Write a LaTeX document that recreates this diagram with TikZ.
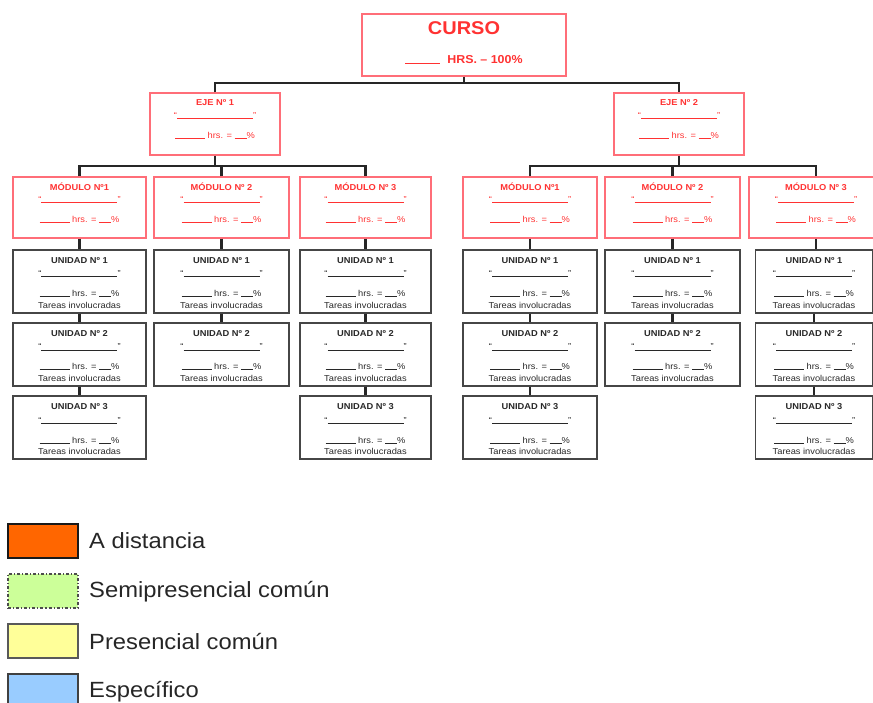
\documentclass[tikz,border=0pt]{standalone}
\usepackage{fontspec}
\setmainfont{Liberation Sans}[FakeStretch=1.08]
\usetikzlibrary{calc}

\definecolor{hdred}{RGB}{255,50,50}
\definecolor{hdframe}{RGB}{255,110,120}
\definecolor{unitframe}{RGB}{70,70,70}
\definecolor{unittext}{RGB}{40,40,40}
\definecolor{legorange}{RGB}{255,102,0}
\definecolor{leggreen}{RGB}{204,255,153}
\definecolor{legyellow}{RGB}{255,255,153}
\definecolor{legblue}{RGB}{153,204,255}

\tikzset{
  redbox/.style={draw=hdframe, line width=1.1pt, rectangle, inner sep=0pt},
  unitbox/.style={draw=unitframe, line width=1.2pt, rectangle, inner sep=0pt, minimum height=63pt},
  conn/.style={draw=black!85, line width=2.1pt},
  ttl/.style={inner sep=0pt, font=\fontsize{8.6}{10}\selectfont\bfseries},
  txt/.style={inner sep=0pt, font=\fontsize{8.6}{10}\selectfont},
  legswatch/.style={rectangle, inner sep=0pt, minimum width=70pt, minimum height=34pt},
  legtext/.style={anchor=west, inner sep=0pt, text=black!85, font=\fontsize{22}{24}\selectfont},
}

% #1 name, #2 centre x, #3 top y, #4 width, #5 number
\newcommand\UnitBox[5]{%
  \node[unitbox, minimum width=#4pt] (#1) at (#2,#3+31.5) {};
  \node[ttl, text=unittext] (#1-t) at (#2,#3+11) {UNIDAD Nº #5};
  \node[txt, text=unittext, anchor=base] (#1-q) at (#2,#3+27) {“\rule{76pt}{0.5pt}”};
  \node[txt, text=unittext, anchor=base] (#1-h) at (#2,#3+47) {\rule{30pt}{0.5pt} hrs. = \rule{12pt}{0.5pt}\%};
  \node[txt, text=unittext] (#1-w) at (#2,#3+55) {Tareas involucradas};
}
% #1 name, #2 centre x, #3 top y, #4 width, #5 height, #6 title
\newcommand\RedBox[6]{%
  \node[redbox, minimum width=#4pt, minimum height=#5pt] (#1) at (#2,#3+#5/2) {};
  \node[ttl, text=hdred] (#1-t) at (#2,#3+10) {#6};
  \node[txt, text=hdred, anchor=base] (#1-q) at (#2,#3+26) {“\rule{76pt}{0.5pt}”};
  \node[txt, text=hdred, anchor=base] (#1-h) at (#2,#3+46) {\rule{30pt}{0.5pt} hrs. = \rule{12pt}{0.5pt}\%};
}

\begin{document}
\begin{tikzpicture}[x=1pt, y=-1pt]
\useasboundingbox (0,0) rectangle (873,703);

% course header
\node[redbox, minimum width=204pt, minimum height=62pt] (curso) at (464,45) {};
\node[inner sep=0pt, text=hdred, font=\fontsize{18.5}{20}\selectfont\bfseries] (curso-t) at (464,28) {CURSO};
\node[inner sep=0pt, text=hdred, anchor=base, font=\fontsize{11.5}{13}\selectfont\bfseries] (curso-h) at (464,64) {\rule{35pt}{0.6pt}\ \ HRS. – 100\%};

% axes
\RedBox{eje1}{215}{93}{130}{62}{EJE Nº 1}
\RedBox{eje2}{679}{93}{130}{62}{EJE Nº 2}

% modules
\RedBox{m1}{79.5}{177}{133}{61}{MÓDULO Nº1}
\RedBox{m2}{221.5}{177}{135}{61}{MÓDULO Nº 2}
\RedBox{m3}{365.5}{177}{131}{61}{MÓDULO Nº 3}
\RedBox{m4}{530}{177}{134}{61}{MÓDULO Nº1}
\RedBox{m5}{672.5}{177}{135}{61}{MÓDULO Nº 2}
\RedBox{m6}{816}{177}{134}{61}{MÓDULO Nº 3}

% units
\UnitBox{u11}{79.5}{250}{133}{1}
\UnitBox{u12}{79.5}{323}{133}{2}
\UnitBox{u13}{79.5}{396}{133}{3}
\UnitBox{u21}{221.5}{250}{135}{1}
\UnitBox{u22}{221.5}{323}{135}{2}
\UnitBox{u31}{365.5}{250}{131}{1}
\UnitBox{u32}{365.5}{323}{131}{2}
\UnitBox{u33}{365.5}{396}{131}{3}
\UnitBox{u41}{530}{250}{134}{1}
\UnitBox{u42}{530}{323}{134}{2}
\UnitBox{u43}{530}{396}{134}{3}
\UnitBox{u51}{672.5}{250}{135}{1}
\UnitBox{u52}{672.5}{323}{135}{2}
\UnitBox{u61}{814}{250}{117}{1}
\UnitBox{u62}{814}{323}{117}{2}
\UnitBox{u63}{814}{396}{117}{3}

% connectors
\coordinate (jc) at (464,83);
\coordinate (j1) at (215,166);
\coordinate (j2) at (679,166);
\draw[conn] (curso.south) -- (jc);
\draw[conn] (eje1.north) |- (jc) -| (eje2.north);
\draw[conn] (eje1.south) -- (j1);
\draw[conn] (m1.north) |- (j1) -| (m3.north);
\draw[conn] (m2.north) -- (m2.north |- j1);
\draw[conn] (eje2.south) -- (j2);
\draw[conn] (m4.north) |- (j2) -| (m6.north);
\draw[conn] (m5.north) -- (m5.north |- j2);

\foreach \m/\a/\b in {m1/u11/u12, m2/u21/u22, m3/u31/u32, m4/u41/u42, m5/u51/u52, m6/u61/u62}{
  \draw[conn] (\m.south) -- (\m.south |- \a.north);
  \draw[conn] (\a.south) -- (\b.north);
}
\foreach \a/\b in {u12/u13, u32/u33, u42/u43, u62/u63}{
  \draw[conn] (\a.south) -- (\b.north);
}

% legend
\node[legswatch, fill=legorange, draw=black!90, line width=2pt] (l1) at (43,540.5) {};
\node[legswatch, fill=leggreen, draw=black!70, line width=1.1pt, dash dot] (l2) at (43,591) {};
\node[legswatch, fill=legyellow, draw=black!65, line width=1.4pt] (l3) at (43,641) {};
\node[legswatch, fill=legblue, draw=black!75, line width=1.6pt] (l4) at (43,691) {};
\node[legtext] (l1-t) at (89,541) {A distancia};
\node[legtext] (l2-t) at (89,592) {Semipresencial común};
\node[legtext] (l3-t) at (89,642) {Presencial común};
\node[legtext] (l4-t) at (89,692) {Específico};
\end{tikzpicture}
\end{document}
